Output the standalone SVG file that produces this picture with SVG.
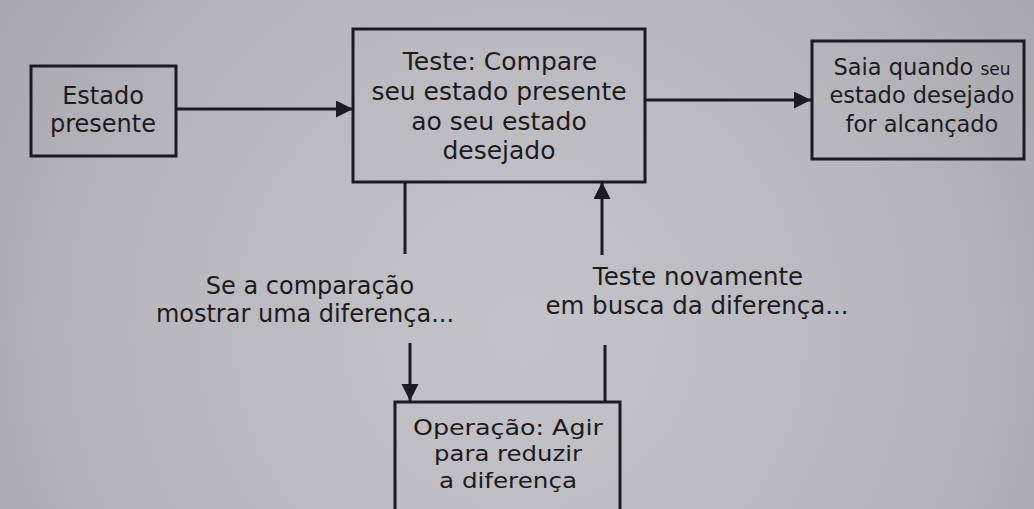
<svg xmlns="http://www.w3.org/2000/svg" width="1034" height="509" viewBox="0 0 1034 509">
  <defs>
    <radialGradient id="bg" cx="520" cy="330" r="640" gradientUnits="userSpaceOnUse">
      <stop offset="0" stop-color="#c4c4c8"/>
      <stop offset="0.6" stop-color="#b7b7bc"/>
      <stop offset="1" stop-color="#a5a5ab"/>
    </radialGradient>
    <marker id="arr" markerUnits="userSpaceOnUse" markerWidth="18" markerHeight="18" refX="17" refY="8.5" orient="auto">
      <path d="M0,0 L17,8.5 L0,17 z" fill="#1c1c20"/>
    </marker>
  </defs>
  <style>
    .box { fill: none; stroke: #1c1c20; stroke-width: 3; }
    .t { font-family: "DejaVu Sans", "Liberation Sans", sans-serif; fill: #1c1c20; text-anchor: middle; }
    .c { fill: none; stroke: #1c1c20; stroke-width: 3; }
  </style>
  <rect x="0" y="0" width="1034" height="509" fill="url(#bg)"/>

  <g id="estado-presente">
    <rect class="box" x="31" y="66" width="145" height="90"/>
    <text class="t" font-size="24" x="103" y="104">Estado</text>
    <text class="t" font-size="24" x="103" y="132">presente</text>
  </g>

  <g id="teste">
    <rect class="box" x="353" y="29" width="292" height="153"/>
    <text class="t" font-size="25" x="500" y="70">Teste: Compare</text>
    <text class="t" font-size="25" x="499" y="100">seu estado presente</text>
    <text class="t" font-size="25" x="499" y="130">ao seu estado</text>
    <text class="t" font-size="25" x="499" y="159">desejado</text>
  </g>

  <g id="saia">
    <rect class="box" x="812" y="41" width="212" height="118"/>
    <text class="t" font-size="22.5" x="922" y="75">Saia quando <tspan font-size="17">seu</tspan></text>
    <text class="t" font-size="22.5" x="922" y="103">estado desejado</text>
    <text class="t" font-size="22.5" x="922" y="132">for alcançado</text>
  </g>

  <g id="operacao">
    <rect class="box" x="395" y="402" width="225" height="120"/>
    <text class="t" font-size="22" x="508" y="435" textLength="190" lengthAdjust="spacingAndGlyphs">Operação: Agir</text>
    <text class="t" font-size="22" x="508" y="461" textLength="148" lengthAdjust="spacingAndGlyphs">para reduzir</text>
    <text class="t" font-size="22" x="508" y="488" textLength="138" lengthAdjust="spacingAndGlyphs">a diferença</text>
  </g>

  <g id="label-se">
    <text class="t" font-size="24" x="310" y="294">Se a comparação</text>
    <text class="t" font-size="24" x="305" y="322">mostrar uma diferença...</text>
  </g>

  <g id="label-teste-novamente">
    <text class="t" font-size="24.5" x="698" y="285">Teste novamente</text>
    <text class="t" font-size="24.5" x="697" y="314">em busca da diferença...</text>
  </g>

  <g id="connectors">
    <line class="c" x1="177" y1="109" x2="353" y2="109" marker-end="url(#arr)"/>
    <line class="c" x1="645" y1="100" x2="811" y2="100" marker-end="url(#arr)"/>
    <line class="c" x1="405" y1="182" x2="405" y2="254"/>
    <line class="c" x1="602" y1="255" x2="602" y2="182" marker-end="url(#arr)"/>
    <line class="c" x1="410" y1="343" x2="410" y2="401" marker-end="url(#arr)"/>
    <line class="c" x1="605" y1="345" x2="605" y2="402"/>
  </g>
</svg>
